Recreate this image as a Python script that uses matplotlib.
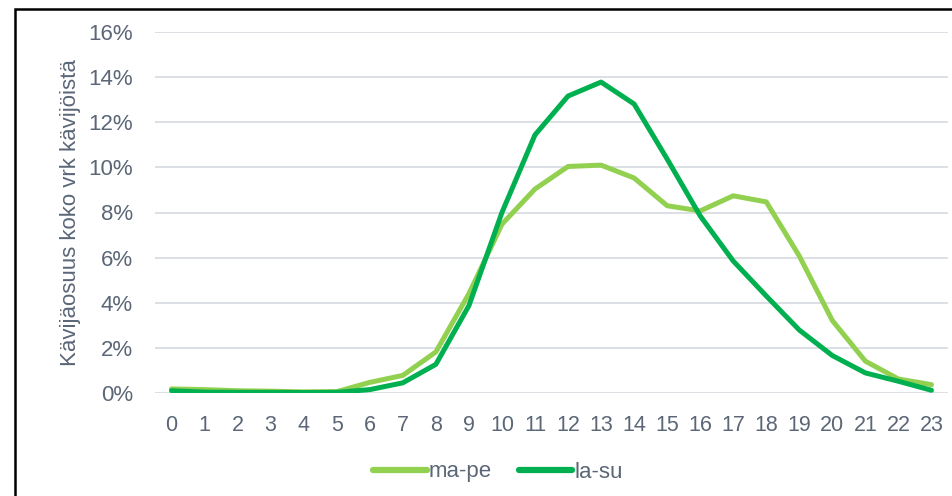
import matplotlib
matplotlib.use("Agg")
import matplotlib.pyplot as plt
from matplotlib.ticker import FuncFormatter
from matplotlib.patches import Rectangle

hours = list(range(24))
ma_pe = [0.18, 0.15, 0.10, 0.08, 0.05, 0.06, 0.47, 0.78, 1.82, 4.4, 7.48, 9.04,
         10.04, 10.10, 9.53, 8.30, 8.07, 8.74, 8.47, 6.07, 3.21, 1.41, 0.62, 0.37]
la_su = [0.10, 0.04, 0.03, 0.03, 0.02, 0.03, 0.15, 0.45, 1.27, 3.87, 8.0, 11.44,
         13.16, 13.78, 12.81, 10.37, 7.85, 5.85, 4.30, 2.79, 1.66, 0.89, 0.52, 0.12]
series_names = ["ma-pe", "la-su"]
yticks = [0, 2, 4, 6, 8, 10, 12, 14, 16]
ylabel = "Kävijäosuus koko vrk kävijöistä"

plt.rcParams['font.family'] = ['Liberation Sans', 'DejaVu Sans']
text_color = '#5b6677'

fig = plt.figure(figsize=(9.53, 4.96), dpi=100)
ax = fig.add_axes([155/953, 1 - 393/496, (948 - 155)/953, (393 - 32)/496])

ax.plot(hours, ma_pe, color='#92D050', lw=3.6, solid_capstyle='round', label=series_names[0], zorder=3)
ax.plot(hours, la_su, color='#00B050', lw=3.6, solid_capstyle='round', label=series_names[1], zorder=4)

ax.set_xlim(-0.5, 23.5)
ax.set_ylim(0, 16)
ax.set_yticks(yticks)
ax.yaxis.set_major_formatter(FuncFormatter(lambda v, p: f"{int(v)}%"))
ax.set_xticks(hours)
ax.grid(axis='y', color='#d9dde3', lw=1.3, zorder=0)
for s in ax.spines.values():
    s.set_visible(False)
ax.tick_params(axis='both', length=0, colors=text_color)
ax.tick_params(axis='y', labelsize=16, pad=16)
ax.tick_params(axis='x', labelsize=15.5, pad=16)
ax.set_ylabel(ylabel, color=text_color, fontsize=16, labelpad=5)

leg = fig.legend(loc='center', bbox_to_anchor=(498/953, 1 - 472/496), ncol=2, frameon=False,
                 fontsize=16, labelcolor=text_color, handlelength=2.4, handletextpad=0.1,
                 columnspacing=1.2)
for line in leg.get_lines():
    line.set_linewidth(4.5)

# outer frame (left and top edges visible)
fig.patches.append(Rectangle((15/953, -0.1), 1.2, 1 - 9/496 + 0.1, transform=fig.transFigure,
                             fill=False, edgecolor='black', lw=1.8))

fig.savefig("out.png", dpi=100)
